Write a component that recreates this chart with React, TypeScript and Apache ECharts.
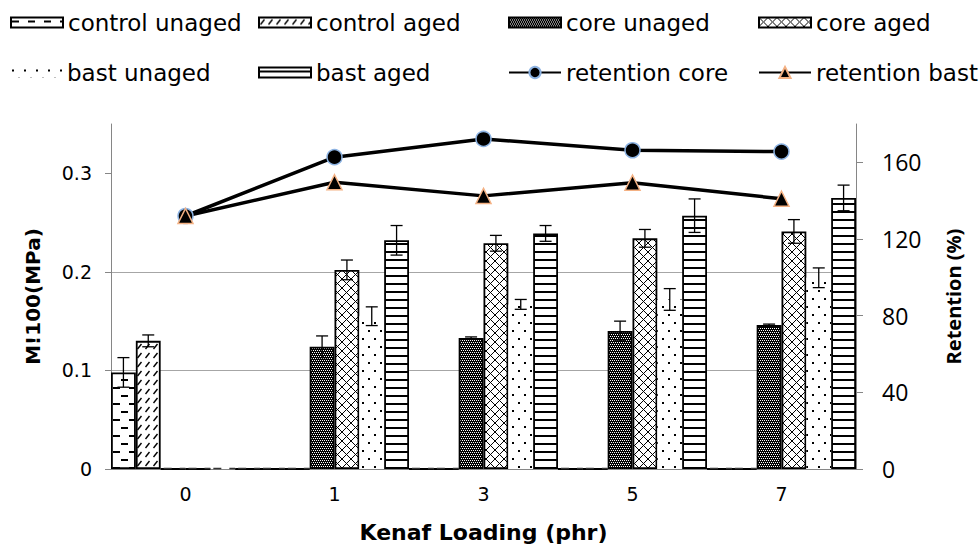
import React, { useEffect, useRef } from 'react';
import * as echarts from 'echarts';

const categories = ['0', '1', '3', '5', '7'];

const controlUnaged = [0.098, 0, 0, 0, 0];
const controlUnagedErr = [0.015, 0, 0, 0, 0];
const controlAged = [0.13, 0, 0, 0, 0];
const controlAgedErr = [0.006, 0, 0, 0, 0];
const coreUnaged = [0, 0.124, 0.133, 0.14, 0.146];
const coreUnagedErr = [0, 0.011, 0.001, 0.01, 0.001];
const coreAged = [0, 0.202, 0.229, 0.234, 0.241];
const coreAgedErr = [0, 0.01, 0.008, 0.009, 0.012];
const bastUnaged = [0, 0.155, 0.167, 0.172, 0.194];
const bastUnagedErr = [0, 0.0095, 0.005, 0.011, 0.01];
const bastAged = [0, 0.232, 0.239, 0.257, 0.275];
const bastAgedErr = [0, 0.015, 0.008, 0.017, 0.013];

const retentionCore = [132, 162.7, 172.2, 166.3, 165.6];
const retentionBast = [132, 149.6, 142.5, 149.4, 141];

const leftTicks = [0, 0.1, 0.2, 0.3];
const rightTicks = [0, 40, 80, 120, 160];

const legendNames = [
  'control unaged', 'control aged', 'core unaged', 'core aged',
  'bast unaged', 'bast aged', 'retention core', 'retention bast',
];

function makePattern(w: number, h: number, draw: (ctx: CanvasRenderingContext2D) => void, bg = '#fff') {
  const c = document.createElement('canvas');
  c.width = w;
  c.height = h;
  const ctx = c.getContext('2d') as CanvasRenderingContext2D;
  ctx.fillStyle = bg;
  ctx.fillRect(0, 0, w, h);
  ctx.fillStyle = '#000';
  ctx.strokeStyle = '#000';
  draw(ctx);
  return { image: c.toDataURL(), repeat: 'repeat', imageWidth: w, imageHeight: h } as any;
}

export default function App() {
  const ref = useRef<HTMLDivElement>(null);

  useEffect(() => {
    if (!ref.current) return;
    const chart = echarts.init(ref.current, undefined, { renderer: 'svg' });

    const pDash = makePattern(16, 16, (ctx) => {
      ctx.fillRect(1, 3, 7, 2);
      ctx.fillRect(9, 11, 7, 2);
    });
    const pDiag = makePattern(8, 9, (ctx) => {
      ctx.lineWidth = 1.4;
      ctx.beginPath();
      ctx.moveTo(1.5, 7);
      ctx.lineTo(5.5, 2);
      ctx.stroke();
    });
    const pChecker = makePattern(4, 4, (ctx) => {
      ctx.fillStyle = '#fff';
      ctx.fillRect(0, 0, 1, 1);
      ctx.fillRect(2, 0, 1, 1);
      ctx.fillRect(1, 2, 1, 1);
      ctx.fillRect(3, 2, 1, 1);
    }, '#000');
    const pCross = makePattern(9, 9, (ctx) => {
      ctx.lineWidth = 1;
      ctx.beginPath();
      ctx.moveTo(0, 0);
      ctx.lineTo(9, 9);
      ctx.moveTo(9, 0);
      ctx.lineTo(0, 9);
      ctx.stroke();
    });
    const pDots = makePattern(12, 16, (ctx) => {
      ctx.fillRect(2, 2, 2, 2);
      ctx.fillRect(8, 10, 2, 2);
    });
    const pHoriz = makePattern(8, 8, (ctx) => {
      ctx.fillRect(0, 3, 8, 2);
    });

    const barDefs = [
      { name: 'control unaged', data: controlUnaged, err: controlUnagedErr, pattern: pDash, border: 1.8 },
      { name: 'control aged', data: controlAged, err: controlAgedErr, pattern: pDiag, border: 1.8 },
      { name: 'core unaged', data: coreUnaged, err: coreUnagedErr, pattern: pChecker, border: 1.8 },
      { name: 'core aged', data: coreAged, err: coreAgedErr, pattern: pCross, border: 1.8 },
      { name: 'bast unaged', data: bastUnaged, err: bastUnagedErr, pattern: pDots, border: 0 },
      { name: 'bast aged', data: bastAged, err: bastAgedErr, pattern: pHoriz, border: 1.8 },
    ];
    const nBars = barDefs.length;

    const barSeries = barDefs.map((d) => ({
      type: 'bar',
      name: d.name,
      data: d.data,
      barGap: '0%',
      barCategoryGap: '0%',
      itemStyle: { color: d.pattern, borderColor: '#000', borderWidth: d.border },
      emphasis: { disabled: true },
      z: 2,
    }));

    const errSeries = barDefs.map((d, i) => ({
      type: 'custom',
      name: d.name + ' error',
      silent: true,
      z: 4,
      data: d.data.map((v, k) => [k, v, d.err[k]]).filter((r) => r[2] > 0),
      encode: { x: 0, y: 1 },
      renderItem: (params: any, api: any) => {
        const cat = api.value(0);
        const v = api.value(1);
        const e = api.value(2);
        const band = api.size([1, 0])[0];
        const bw = band / nBars;
        const off = (i - (nBars - 1) / 2) * bw;
        const top = api.coord([cat, v + e]);
        const bot = api.coord([cat, v - e]);
        const x = top[0] + off;
        const hw = 6;
        const style = { stroke: '#000', lineWidth: 1.3 };
        return {
          type: 'group',
          children: [
            { type: 'line', shape: { x1: x, y1: top[1], x2: x, y2: bot[1] }, style },
            { type: 'line', shape: { x1: x - hw, y1: top[1], x2: x + hw, y2: top[1] }, style },
            { type: 'line', shape: { x1: x - hw, y1: bot[1], x2: x + hw, y2: bot[1] }, style },
          ],
        };
      },
    }));

    // zero-height bars drawn as dashed outlines on the baseline
    const zeroSeries = barDefs.map((d, i) => ({
      type: 'custom',
      name: d.name + ' zero',
      silent: true,
      z: 3,
      data: d.data.map((v, k) => [k, v]).filter((r) => r[1] === 0),
      encode: { x: 0, y: 1 },
      renderItem: (params: any, api: any) => {
        const cat = api.value(0);
        const band = api.size([1, 0])[0];
        const bw = band / nBars;
        const off = (i - (nBars - 1) / 2) * bw;
        const p = api.coord([cat, 0]);
        const x = p[0] + off;
        return {
          type: 'line',
          shape: { x1: x - bw / 2 + 3, y1: p[1] - 0.5, x2: x + bw / 2, y2: p[1] - 0.5 },
          style: { stroke: '#333', lineWidth: 1.5, lineDash: [8, 8] },
        };
      },
    }));

    const lineSeries = [
      {
        type: 'line',
        name: 'retention core',
        yAxisIndex: 1,
        data: retentionCore,
        symbol: 'circle',
        symbolSize: 15,
        lineStyle: { color: '#000', width: 3.5 },
        itemStyle: { color: '#000', borderColor: '#8db3e2', borderWidth: 1.5 },
        emphasis: { disabled: true },
        z: 5,
      },
      {
        type: 'line',
        name: 'retention bast',
        yAxisIndex: 1,
        data: retentionBast,
        symbol: 'triangle',
        symbolSize: 15,
        lineStyle: { color: '#000', width: 3.5 },
        itemStyle: { color: '#000', borderColor: '#f4b183', borderWidth: 1.5 },
        emphasis: { disabled: true },
        z: 5,
      },
    ];

    const legendCols = [10, 258, 508, 758];
    const legends = legendNames.map((n, i) => ({
      data: [n],
      left: legendCols[i % 4],
      top: i < 4 ? 11 : 61,
      padding: 0,
      itemWidth: 52,
      itemHeight: i >= 6 ? 14 : 10,
      itemGap: 0,
      selectedMode: false,
      icon: i < 6 ? 'rect' : undefined,
      textStyle: { fontFamily: 'DejaVu Sans', fontSize: 23, color: '#000' },
    }));

    const axisLineStyle = { color: '#868686', width: 1 };

    chart.setOption({
      animation: false,
      backgroundColor: '#fff',
      legend: legends,
      grid: { left: 111, right: 124, top: 124, bottom: 75 },
      xAxis: {
        type: 'category',
        data: categories,
        axisLine: { lineStyle: axisLineStyle },
        axisTick: { show: false },
        axisLabel: { color: '#000', fontFamily: 'DejaVu Sans', fontSize: 19, margin: 15 },
        name: 'Kenaf Loading (phr)',
        nameLocation: 'middle',
        nameGap: 52,
        nameTextStyle: { fontFamily: 'DejaVu Sans', fontWeight: 'bold', fontSize: 22, color: '#000' },
      },
      yAxis: [
        {
          type: 'value',
          position: 'left',
          min: 0,
          max: 0.35,
          interval: 0.1,
          axisLine: { show: true, lineStyle: axisLineStyle },
          axisTick: { show: true, length: 6, lineStyle: axisLineStyle, customValues: leftTicks },
          axisLabel: {
            customValues: leftTicks,
            color: '#000',
            fontFamily: 'DejaVu Sans',
            fontSize: 19,
            margin: 19,
            formatter: (v: number) => String(Math.round(v * 10) / 10),
          },
          splitLine: { show: true, showMaxLine: false, lineStyle: { color: '#a6a6a6', width: 1 } },
          name: 'M!100(MPa)',
          nameLocation: 'middle',
          nameGap: 68,
          nameTextStyle: { fontFamily: 'DejaVu Sans', fontWeight: 'bold', fontSize: 20, color: '#000' },
        },
        {
          type: 'value',
          position: 'right',
          min: 0,
          max: 180,
          interval: 40,
          axisLine: { show: true, lineStyle: axisLineStyle },
          axisTick: { show: true, length: 7, lineStyle: axisLineStyle, customValues: rightTicks },
          axisLabel: {
            customValues: rightTicks,
            color: '#000',
            fontFamily: 'Open Sans',
            fontSize: 23,
            margin: 26,
          },
          splitLine: { show: false },
          name: 'Retention (%)',
          nameLocation: 'middle',
          nameGap: 87,
          nameTextStyle: { fontFamily: 'Open Sans', fontWeight: 'bold', fontSize: 20, color: '#000' },
        },
      ],
      series: [...barSeries, ...zeroSeries, ...errSeries, ...lineSeries],
    });

    return () => {
      chart.dispose();
    };
  }, []);

  return (
    <div
      ref={ref}
      style={{ position: 'fixed', left: 0, top: 0, width: 980, height: 548, background: '#fff' }}
    />
  );
}
